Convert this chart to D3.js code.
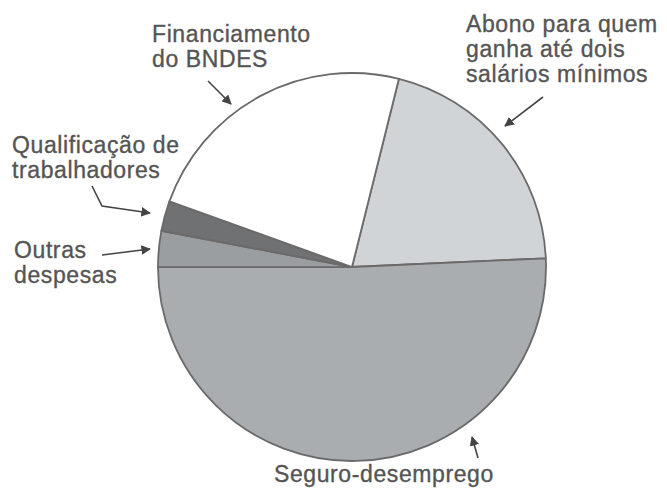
<!DOCTYPE html>
<html>
<head>
    <meta charset="utf-8">
    <title>Despesas - pizza</title>
    <style>
        body { margin: 0; background: #fff; }
        svg { display: block; }
        .lbl { font-family: "Liberation Sans", Arial, sans-serif; font-size: 23px; letter-spacing: 0.6px;
               fill: #555; stroke: #555; stroke-width: 0.35px; }
        .arrow { stroke: #444; stroke-width: 1.6; fill: none; }
    </style>
    <script src="https://d3js.org/d3.v7.min.js"></script>
</head>
<body>
<div id="chart"></div>
<script>
    // fatias em %, na ordem horária a partir da fatia do Abono
    const categorias = ["Abono para quem ganha até dois salários mínimos", "Seguro-desemprego",
        "Outras despesas", "Qualificação de trabalhadores", "Financiamento do BNDES"];
    const valores = [20.4, 50.7, 3.0, 2.5, 23.4];
    const cores = ["#d1d4d7", "#a9adb0", "#9b9ea1", "#6f7173", "#ffffff"];

    // rótulos: linhas de texto e posição
    const rotulos = [
        {linhas: ["Abono para quem", "ganha até dois", "salários mínimos"], x: 466, y: 32},
        {linhas: ["Seguro-desemprego"], x: 274, y: 482},
        {linhas: ["Outras", "despesas"], x: 14, y: 258},
        {linhas: ["Qualificação de", "trabalhadores"], x: 12, y: 153},
        {linhas: ["Financiamento", "do BNDES"], x: 152, y: 42}
    ];
    const setas = [
        [[543, 97], [505, 126]],
        [[478, 458], [472, 437]],
        [[102, 255], [150, 249]],
        [[92, 186], [102, 206], [150, 213]],
        [[208, 81], [231, 104]]
    ];

    const width = 667, height = 492;
    const cx = 352, cy = 267, raio = 194;

    const svg = d3.select("#chart").append("svg")
        .attr("width", width)
        .attr("height", height);

    svg.append("defs").append("marker")
        .attr("id", "ponta")
        .attr("viewBox", "0 -5 10 10")
        .attr("refX", 9)
        .attr("markerWidth", 6)
        .attr("markerHeight", 6)
        .attr("orient", "auto")
        .append("path")
        .attr("d", "M0,-5L10,0L0,5Z")
        .attr("fill", "#444");

    const pie = d3.pie()
        .sort(null)
        .startAngle(14 * Math.PI / 180)
        .endAngle(374 * Math.PI / 180);

    const arc = d3.arc().innerRadius(0).outerRadius(raio);

    svg.append("g")
        .attr("transform", `translate(${cx},${cy})`)
        .selectAll("path")
        .data(pie(valores))
        .join("path")
        .attr("d", arc)
        .attr("fill", (d, i) => cores[i])
        .attr("stroke", "#6a6a6a")
        .attr("stroke-width", 1.8)
        .attr("stroke-linejoin", "round");

    // textos
    const txt = svg.append("g").selectAll("text")
        .data(rotulos)
        .join("text")
        .attr("class", "lbl")
        .attr("x", d => d.x)
        .attr("y", d => d.y);
    txt.selectAll("tspan")
        .data(d => d.linhas.map(l => ({l, x: d.x})))
        .join("tspan")
        .attr("x", d => d.x)
        .attr("dy", (d, i) => i === 0 ? 0 : 25)
        .text(d => d.l);

    // setas
    svg.append("g").selectAll("path")
        .data(setas)
        .join("path")
        .attr("class", "arrow")
        .attr("d", d3.line())
        .attr("marker-end", "url(#ponta)");
</script>
</body>
</html>
